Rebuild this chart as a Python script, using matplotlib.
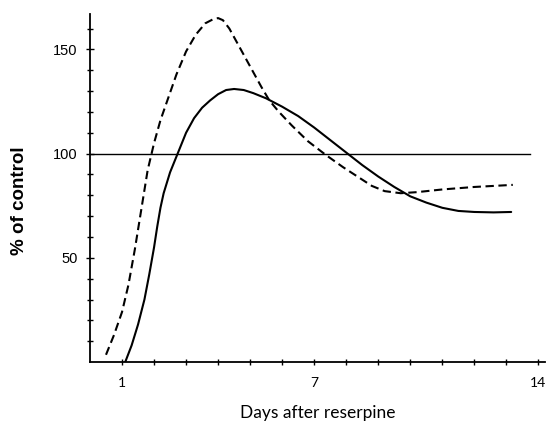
"""
Response to reserpine over two weeks, as % of control.
"""

import matplotlib
matplotlib.use('Agg')
import matplotlib.pyplot as plt
from matplotlib.ticker import FixedLocator

# Solid curve
solid_days = [1.1, 1.3, 1.5, 1.7, 1.85, 2.0, 2.1, 2.2, 2.3, 2.5, 2.75, 3.0,
              3.25, 3.5, 3.75, 4.0, 4.25, 4.5, 4.8, 5.1, 5.5, 6.0, 6.5, 7.0,
              7.5, 8.0, 8.5, 9.0, 9.5, 10.0, 10.5, 11.0, 11.5, 12.0, 12.6,
              13.15]
solid_pct = [0, 8, 18, 30, 42, 55, 65, 74, 81, 91, 100.5, 110,
             117, 122, 125.5, 128.5, 130.5, 131, 130.5, 129, 126.5, 122.5,
             118, 112.5, 106.5, 100.5, 94.5, 89, 84, 79.5, 76.5, 74, 72.5,
             72, 71.8, 72]

# Dashed curve
dashed_days = [0.5, 0.75, 1.0, 1.2, 1.4, 1.6, 1.8, 2.0, 2.2, 2.45, 2.7, 3.0,
               3.3, 3.6, 3.85, 4.0, 4.15, 4.35, 4.6, 4.85, 5.1, 5.35, 5.6,
               5.9, 6.3, 6.8, 7.35, 7.9, 8.4, 8.8, 9.2, 9.7, 10.2, 11.0,
               12.0, 13.2]
dashed_pct = [3.5, 13, 24, 37, 54, 73, 92, 105, 116, 127, 138, 149,
              157, 162.5, 164.5, 165, 164, 160, 153, 146, 139, 132, 125.5,
              120, 113.5, 106, 99.5, 93.5, 88.5, 84.5, 82, 81, 81.5, 82.8,
              84, 85]

# Control level
control_days = [0, 13.75]
control_pct = [100, 100]

x_labeled = [1, 7, 14]
x_minor = list(range(1, 15))
y_labeled = [50, 100, 150]
y_minor = list(range(10, 170, 10))

fig = plt.figure(figsize=(5.5, 4.22), dpi=100)
ax = fig.add_axes([0.1636, 0.142, 0.827, 0.825])

ax.plot(control_days, control_pct, color='black', lw=1.0)
ax.plot(solid_days, solid_pct, color='black', lw=1.5,
        solid_capstyle='round', solid_joinstyle='round')
ax.plot(dashed_days, dashed_pct, color='black', lw=1.5, dashes=(4, 2.2))

ax.set_xlim(0, 14.2)
ax.set_ylim(0, 167)

for side in ['top', 'right']:
    ax.spines[side].set_visible(False)
for side in ['left', 'bottom']:
    ax.spines[side].set_linewidth(1.3)

ax.xaxis.set_major_locator(FixedLocator(x_labeled))
ax.xaxis.set_minor_locator(FixedLocator(x_minor))
ax.yaxis.set_major_locator(FixedLocator(y_labeled))
ax.yaxis.set_minor_locator(FixedLocator(y_minor))
ax.tick_params(which='both', direction='inout', width=1.0)
ax.tick_params(axis='x', which='both', length=5, pad=8)
ax.tick_params(axis='y', which='major', length=6, pad=6)
ax.tick_params(axis='y', which='minor', length=4)

for lab in ax.get_xticklabels():
    lab.set_fontfamily('Lato')
    lab.set_fontsize(10)
for lab in ax.get_yticklabels():
    lab.set_fontfamily('Liberation Sans')
    lab.set_fontsize(10.5)

ax.set_xlabel('Days after reserpine', fontfamily='Lato', fontsize=12.5, labelpad=12)
ax.set_ylabel('% of control', fontfamily='Liberation Sans',
              fontweight='bold', fontsize=13.5)
ax.yaxis.set_label_coords(-0.136, 0.463)

fig.savefig('out.png', dpi=100)
